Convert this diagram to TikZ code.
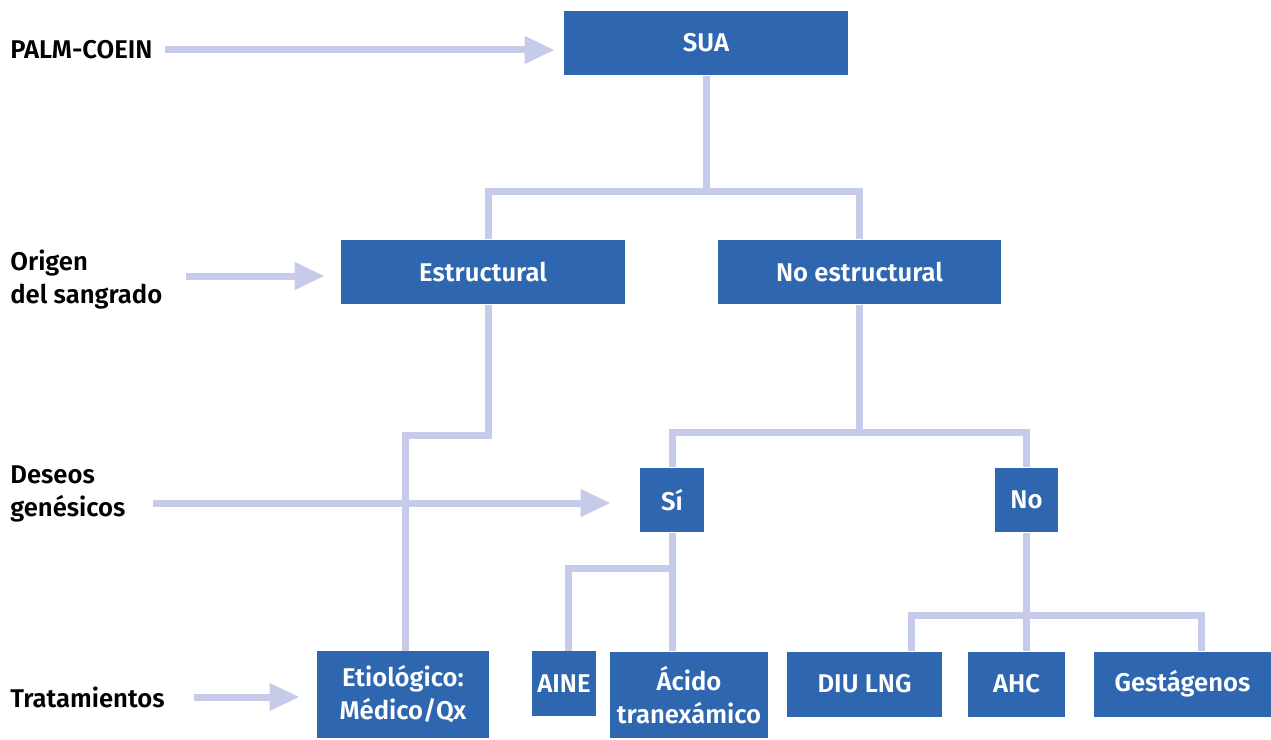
\documentclass[tikz,border=0pt]{standalone}
\usepackage{fontspec}
\setmainfont{Fira Sans}[UprightFont={* SemiBold}]
\usepackage{xcolor}
\usepackage{tikz}
\usetikzlibrary{arrows.meta,positioning,calc}
\definecolor{boxblue}{HTML}{2E66B0}
\definecolor{linkblue}{HTML}{C5CBE8}
\tikzset{
  box/.style={rectangle, fill=boxblue, text=white, align=center, inner sep=0pt,
    minimum height=1.3cm, font=\fontsize{14.6pt}{18.8pt}\selectfont},
  lbl/.style={anchor=west, align=left, inner sep=0pt, text=black,
    font=\fontsize{14.6pt}{18.8pt}\selectfont},
  link/.style={draw=linkblue, line width=0.14cm},
  feed/.style={link, -{Triangle[length=0.6cm, width=0.52cm]}},
}

\begin{document}
\begin{tikzpicture}[x=0.02cm, y=-0.02cm]
  \useasboundingbox (0,0) rectangle (1271,740);
  % boxes
  \node[box, minimum width=5.68cm] (sua) at (706,43) {SUA};
  \node[box, minimum width=5.68cm] (estr) at (483,272) {Estructural};
  \node[box, minimum width=5.66cm] (noestr) at (859.5,272) {No estructural};
  \node[box, minimum width=1.28cm] (si) at (672,500) {Sí};
  \node[box, minimum width=1.26cm] (no) at (1026.5,500) {No};
  \node[box, minimum width=3.44cm, minimum height=1.74cm] (etio) at (403,694.5) {Etiológico:\\Médico/Qx};
  \node[box, minimum width=1.28cm] (aine) at (564,683.5) {AINE};
  \node[box, minimum width=3.16cm, minimum height=1.74cm] (acido) at (689,695) {Ácido\\tranexámico};
  \node[box, minimum width=3.1cm] (diu) at (864.5,684) {DIU LNG};
  \node[box, minimum width=1.94cm] (ahc) at (1016.5,684) {AHC};
  \node[box, minimum width=3.54cm] (gest) at (1182.5,684) {Gestágenos};
  % row labels
  \node[lbl] (palm) at (10,50) {PALM-COEIN};
  \node[lbl] (orig) at (10,280) {Origen\\del sangrado};
  \node[lbl] (deseo) at (10,494) {Deseos\\genésicos};
  \node[lbl] (trat) at (10,697) {Tratamientos};
  % tree
  \draw[link] (sua.south) -- ++(0,116) coordinate (j1);
  \draw[link] ([xshift=0.1cm]estr.north) |- (j1) -| (noestr.north);
  \draw[link] ([xshift=0.1cm]estr.south) -- ++(0,131) -| ([xshift=0.04cm]etio.north);
  \draw[link] (noestr.south) -- ++(0,128) coordinate (j3);
  \draw[link] (si.north) |- (j3) -| (no.north);
  \draw[link] (si.south) -- (si.south |- acido.north);
  \draw[link] (si.south) ++(0,36) -| ([xshift=0.08cm]aine.north);
  \draw[link] (no.south) -- (no.south |- ahc.north);
  \draw[link] ([xshift=0.93cm]diu.north) |- ($(no.south)+(0,83)$) -| ([xshift=0.37cm]gest.north);
  % arrows from the labels
  \draw[feed] ($(palm.east)+(12,0)$) -- ($(sua.west |- palm.east)+(-9,0)$);
  \draw[feed] ($(orig.east)+(23,-4)$) -- ($(estr.west |- orig.east)+(-16,-4)$);
  \draw[feed] ($(deseo.east)+(27,9)$) -- ($(si.west |- deseo.east)+(-29,9)$);
  \draw[feed] ($(trat.east)+(29,0)$) -- ($(etio.west |- trat.east)+(-17,0)$);
\end{tikzpicture}
\end{document}
